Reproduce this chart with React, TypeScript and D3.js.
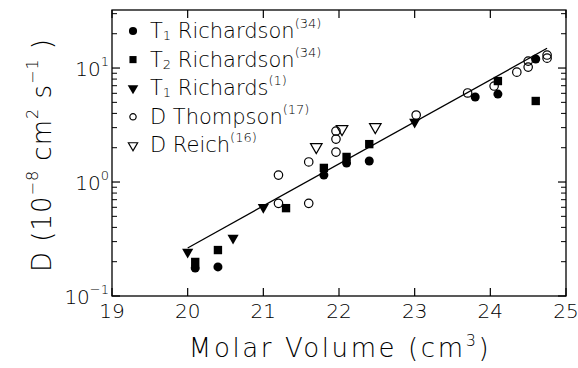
import React from "react";
import * as d3 from "d3";

const xTicks = [19, 20, 21, 22, 23, 24, 25];
const yMajor = [0.1, 1, 10];
const yMajorExp = ["−1", "0", "1"];

const t1RichardsonX = [20.1, 20.4, 21.8, 22.1, 22.4, 23.8, 24.1, 24.6];
const t1RichardsonY = [0.176, 0.18, 1.15, 1.47, 1.53, 5.57, 5.91, 12.0];

const t2RichardsonX = [20.1, 20.4, 21.3, 21.8, 22.1, 22.4, 24.1, 24.6];
const t2RichardsonY = [0.199, 0.253, 0.59, 1.33, 1.66, 2.15, 7.69, 5.14];

const t1RichardsX = [20.0, 20.6, 21.0, 23.0];
const t1RichardsY = [0.243, 0.323, 0.6, 3.36];

const dThompsonX = [21.2, 21.2, 21.6, 21.6, 21.96, 21.96, 21.96, 23.02, 23.7, 24.05, 24.35, 24.5, 24.5, 24.75, 24.75];
const dThompsonY = [0.65, 1.15, 0.65, 1.5, 1.83, 2.38, 2.8, 3.87, 6.04, 6.95, 9.2, 10.2, 11.5, 12.2, 13.0];

const dReichX = [21.7, 22.04, 22.48];
const dReichY = [2.03, 2.92, 3.04];

const fitX = [20.0, 24.75];
const fitY = [0.264, 14.9];

const legendMain = ["T", "T", "T", "D Thompson", "D Reich"];
const legendSub = ["1", "2", "1", "", ""];
const legendRest = [" Richardson", " Richardson", " Richards", "", ""];
const legendRef = ["(34)", "(34)", "(1)", "(17)", "(16)"];

const FONT = "'DejaVu Sans', sans-serif";
const W = 578, H = 368;
const L = 112, R = 566, T = 10, B = 296;

type Kind = "dot" | "square" | "tri" | "ocircle" | "otri";

function Marker({ kind, x, y, scale = 1 }: { kind: Kind; x: number; y: number; scale?: number }) {
  let type = d3.symbolCircle;
  let size = 64;
  let rot = 0;
  let fill = "#000";
  let stroke = "none";
  if (kind === "square") { type = d3.symbolSquare; size = 70; }
  if (kind === "tri") { type = d3.symbolTriangle; size = 54; rot = 180; }
  if (kind === "ocircle") { type = d3.symbolCircle; size = 56; fill = "none"; stroke = "#000"; }
  if (kind === "otri") { type = d3.symbolTriangle; size = 58; rot = 180; fill = "none"; stroke = "#000"; }
  const path = d3.symbol().type(type).size(size * scale * scale)()!;
  return (
    <path d={path} transform={`translate(${x},${y}) rotate(${rot})`} fill={fill} stroke={stroke} strokeWidth={1.2} />
  );
}

export default function App() {
  const x = d3.scaleLinear().domain([19, 25]).range([L, R]);
  const y = d3.scaleLog().domain([0.1, 32.3]).range([B, T]);

  const minor: number[] = [];
  [0.1, 1, 10].forEach((e) => {
    for (let k = 2; k <= 9; k++) {
      const v = k * e;
      if (v < 32.3) minor.push(v);
    }
  });

  const series: { kind: Kind; xs: number[]; ys: number[] }[] = [
    { kind: "ocircle", xs: dThompsonX, ys: dThompsonY },
    { kind: "otri", xs: dReichX, ys: dReichY },
    { kind: "square", xs: t2RichardsonX, ys: t2RichardsonY },
    { kind: "dot", xs: t1RichardsonX, ys: t1RichardsonY },
    { kind: "tri", xs: t1RichardsX, ys: t1RichardsY },
  ];

  const legendKinds: Kind[] = ["dot", "square", "tri", "ocircle", "otri"];
  const legendScale = [0.9, 0.85, 0.95, 0.75, 0.8];

  const line = d3.line<number>().x((_, i) => x(fitX[i])).y((_, i) => y(fitY[i]));

  return (
    <svg width={W} height={H} style={{ position: "absolute", left: 0, top: 0, background: "#fff" }} fontFamily={FONT}>
      <rect x={0} y={0} width={W} height={H} fill="#fff" />
      <rect x={L} y={T} width={R - L} height={B - T} fill="none" stroke="#000" strokeWidth={1.3} />
      {/* x ticks */}
      {xTicks.map((t) => (
        <g key={"xt" + t}>
          <line x1={x(t)} x2={x(t)} y1={B} y2={B - 8} stroke="#000" strokeWidth={1.2} />
          <line x1={x(t)} x2={x(t)} y1={T} y2={T + 8} stroke="#000" strokeWidth={1.2} />
          <text x={x(t)} y={318} textAnchor="middle" fontSize={20} fontWeight={200}>{t}</text>
        </g>
      ))}
      {/* y ticks */}
      {yMajor.map((v, i) => (
        <g key={"ym" + v}>
          <line x1={L} x2={L + 8} y1={y(v)} y2={y(v)} stroke="#000" strokeWidth={1.2} />
          <line x1={R} x2={R - 8} y1={y(v)} y2={y(v)} stroke="#000" strokeWidth={1.2} />
          <text x={109} y={y(v) + 8} textAnchor="end" fontSize={20} fontWeight={200}>
            10<tspan dy={-10} fontSize={13}>{yMajorExp[i]}</tspan>
          </text>
        </g>
      ))}
      {minor.map((v) => (
        <g key={"yn" + v}>
          <line x1={L} x2={L + 5} y1={y(v)} y2={y(v)} stroke="#000" strokeWidth={1} />
          <line x1={R} x2={R - 5} y1={y(v)} y2={y(v)} stroke="#000" strokeWidth={1} />
        </g>
      ))}
      {/* fit line */}
      <path d={line(fitX)!} fill="none" stroke="#000" strokeWidth={1.3} />
      {/* data */}
      {series.map((s) =>
        s.xs.map((xv, i) => <Marker key={s.kind + i} kind={s.kind} x={x(xv)} y={y(s.ys[i])} />)
      )}
      {/* legend */}
      {legendKinds.map((k, i) => {
        const cy = 31 + i * 28.6;
        return (
          <g key={"lg" + i}>
            <Marker kind={k} x={133} y={cy} scale={legendScale[i]} />
            <text x={150} y={cy + 7} fontSize={21} fontWeight={200}>
              {legendMain[i]}
              {legendSub[i] ? <tspan dy={2} fontSize={13}>{legendSub[i]}</tspan> : null}
              {legendSub[i] ? <tspan dy={-2}>{legendRest[i]}</tspan> : null}
              <tspan dy={-10} fontSize={13}>{legendRef[i]}</tspan>
            </text>
          </g>
        );
      })}
      {/* axis titles */}
      <text x={340} y={357} textAnchor="middle" fontSize={26} fontWeight={200} letterSpacing={2.6}>
        Molar Volume (cm<tspan dy={-11} fontSize={16}>3</tspan><tspan dy={11}>)</tspan>
      </text>
      <text transform="translate(51,155) rotate(-90)" textAnchor="middle" fontSize={26} fontWeight={200} letterSpacing={1}>
        D (10<tspan dy={-13} fontSize={16}>−8</tspan>
        <tspan dy={13}> cm</tspan><tspan dy={-13} fontSize={16}>2</tspan>
        <tspan dy={13}> s</tspan><tspan dy={-13} fontSize={16}>−1</tspan>
        <tspan dy={13}> )</tspan>
      </text>
    </svg>
  );
}
